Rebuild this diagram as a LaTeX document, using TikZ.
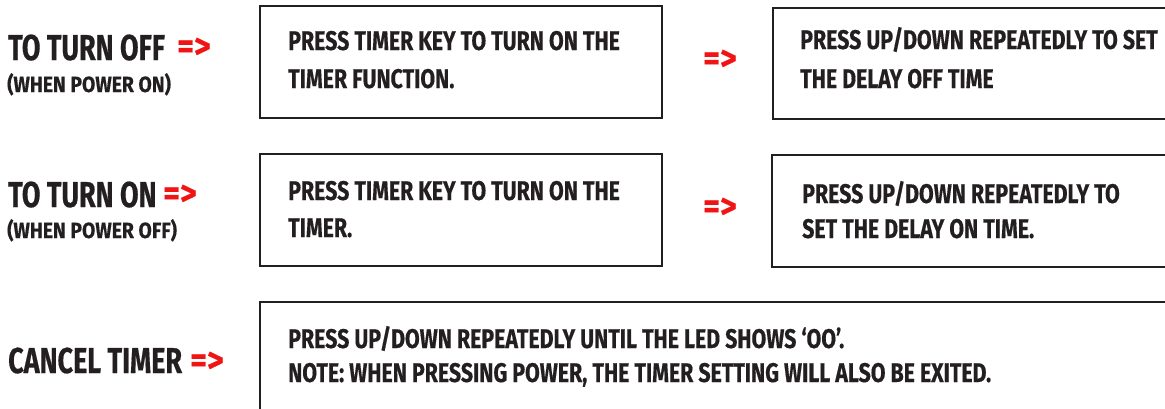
\documentclass[tikz,border=0pt]{standalone}
\usepackage{fontspec}
\newfontfamily\lab{Fira Sans}[FakeStretch=0.79, FakeBold=0.4]
\newfontfamily\labbig{Fira Sans}[FakeStretch=0.75, FakeBold=0.4]
\newfontfamily\labsub{Fira Sans}[FakeStretch=0.88, FakeBold=0.4]
\newfontfamily\labarrow{Fira Sans}[FakeStretch=0.9, FakeBold=0.4]
\definecolor{ink}{HTML}{231F20}
\definecolor{arrowred}{HTML}{F01414}
\tikzset{
  boxframe/.style={draw=ink, line width=2.5pt},
  boxtext/.style={anchor=base west, inner sep=0pt, text=ink, font=\lab\bfseries\fontsize{27}{30}\selectfont},
  bigtext/.style={anchor=base west, inner sep=0pt, text=ink, font=\labbig\bfseries\fontsize{36}{40}\selectfont},
  subtext/.style={anchor=base west, inner sep=0pt, text=ink, font=\labsub\bfseries\fontsize{22}{24}\selectfont},
  redarrow/.style={anchor=west, inner sep=0pt, text=arrowred, font=\labarrow\bfseries\fontsize{36}{40}\selectfont}
}
\begin{document}
\begin{tikzpicture}[x=1pt,y=-1pt]
\useasboundingbox (0,0) rectangle (1165,408);
\clip (0,0) rectangle (1165,408);
% boxes
\draw[boxframe] (260,6) rectangle (662,118);
\draw[boxframe] (773,8) rectangle (1175,119);
\draw[boxframe] (260,154) rectangle (662,266);
\draw[boxframe] (772,155) rectangle (1175,267);
\draw[boxframe] (260,302) rectangle (1175,430);
% row 1
\node[bigtext] (l1) at (8,60) {TO TURN OFF};
\node[redarrow] (a1) at (177,48) {=>};
\node[subtext] (s1) at (7,92) {(WHEN POWER ON)};
\node[boxtext] (t11) at (288,50) {PRESS TIMER KEY TO TURN ON THE};
\node[boxtext] (t12) at (288,88) {TIMER FUNCTION.};
\node[redarrow] (m1) at (703,60) {=>};
\node[boxtext] (t21) at (800,49) {PRESS UP/DOWN REPEATEDLY TO SET};
\node[boxtext] (t22) at (800,88) {THE DELAY OFF TIME};
% row 2
\node[bigtext] (l2) at (8,207) {TO TURN ON};
\node[redarrow] (a2) at (163,195) {=>};
\node[subtext] (s2) at (7,238) {(WHEN POWER OFF)};
\node[boxtext] (t31) at (288,200) {PRESS TIMER KEY TO TURN ON THE};
\node[boxtext] (t32) at (288,237) {TIMER.};
\node[redarrow] (m2) at (703,208) {=>};
\node[boxtext] (t41) at (802,203) {PRESS UP/DOWN REPEATEDLY TO};
\node[boxtext] (t42) at (802,238) {SET THE DELAY ON TIME.};
% row 3
\node[bigtext] (l3) at (8,373) {CANCEL TIMER};
\node[redarrow] (a3) at (190,362) {=>};
\node[boxtext] (t51) at (288,348) {PRESS UP/DOWN REPEATEDLY UNTIL THE LED SHOWS ‘OO’.};
\node[boxtext] (t52) at (288,382) {NOTE: WHEN PRESSING POWER, THE TIMER SETTING WILL ALSO BE EXITED.};
\end{tikzpicture}
\end{document}
